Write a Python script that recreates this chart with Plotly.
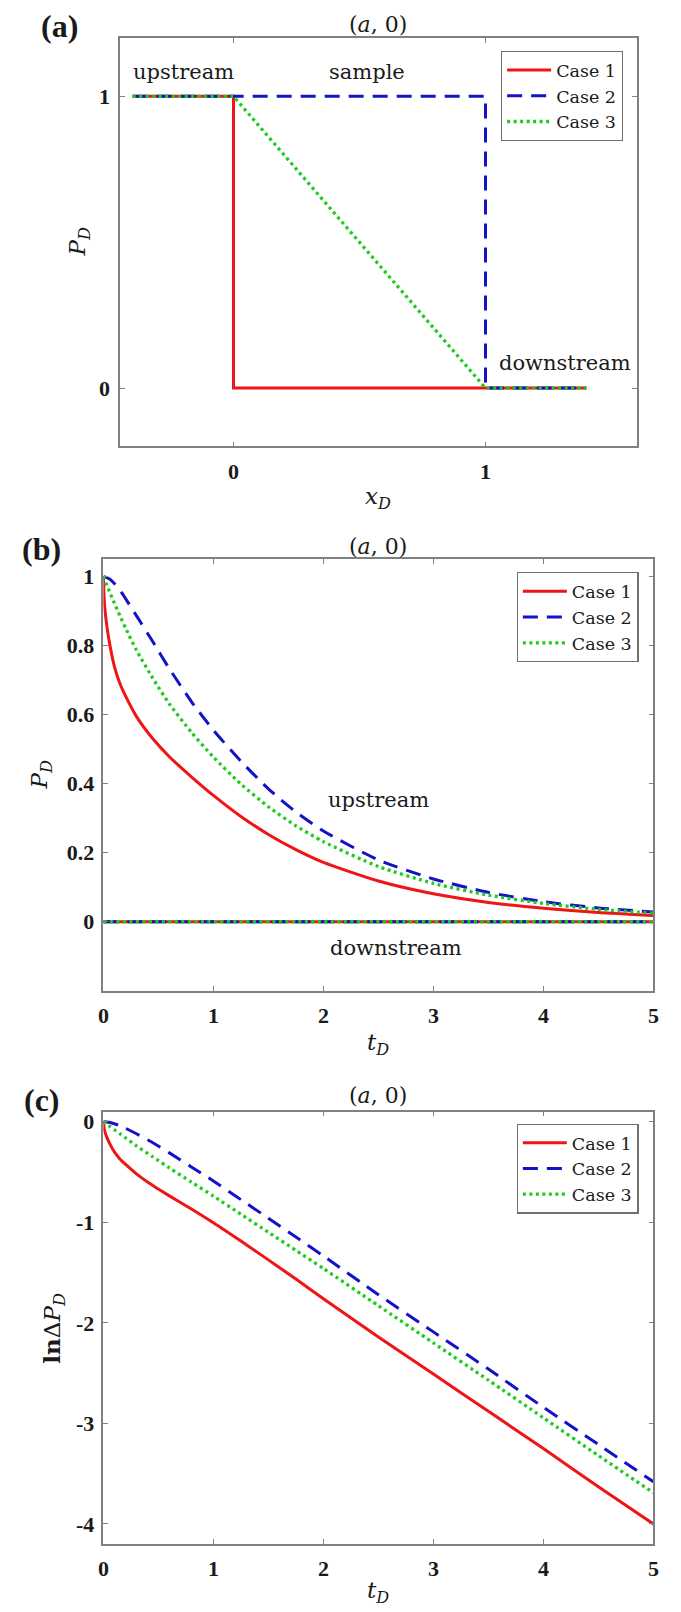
import plotly.graph_objects as go

# ---------------- data ----------------
# (a) initial pressure distribution along the sample
xa_case1 = [-0.4, 0.0, 0.0, 1.4]
pa_case1 = [1, 1, 0, 0]
xa_case2 = [-0.4, 1.0, 1.0, 1.4]
pa_case2 = [1, 1, 0, 0]
xa_case3 = [-0.4, 0.0, 1.0, 1.4]
pa_case3 = [1, 1, 0, 0]

# (b),(c) time axis
t_D = [0, 0.01, 0.03, 0.06, 0.1, 0.15, 0.2, 0.3, 0.45, 0.6, 0.8, 1.0,
       1.25, 1.5, 1.75, 2.0, 2.5, 3.0, 3.5, 4.0, 4.5, 5.0]

# (b) upstream pressure
pb_case1 = [1, 0.92, 0.86, 0.80, 0.74, 0.69, 0.655, 0.595, 0.53, 0.478,
            0.42, 0.366, 0.305, 0.253, 0.209, 0.172, 0.118, 0.081, 0.056,
            0.039, 0.0265, 0.018]
pb_case2 = [1, 0.999, 0.997, 0.992, 0.98, 0.961, 0.937, 0.887, 0.811, 0.733,
            0.638, 0.555, 0.465, 0.385, 0.318, 0.263, 0.179, 0.124, 0.085,
            0.058, 0.040, 0.028]
pb_case3 = [1, 0.992, 0.976, 0.953, 0.923, 0.887, 0.852, 0.787, 0.705, 0.631,
            0.549, 0.477, 0.399, 0.333, 0.278, 0.232, 0.160, 0.111, 0.077,
            0.053, 0.036, 0.025]
# (b) downstream pressure
t_down = [0, 5]
pb_down = [0, 0]

# (c) ln of pressure difference
lc_case1 = [0, -0.083, -0.151, -0.223, -0.301, -0.371, -0.423, -0.519, -0.635,
            -0.738, -0.868, -1.005, -1.187, -1.374, -1.565, -1.76, -2.14,
            -2.51, -2.88, -3.25, -3.63, -4.0]
lc_case2 = [0, -0.001, -0.003, -0.008, -0.02, -0.04, -0.065, -0.12, -0.21,
            -0.31, -0.45, -0.59, -0.775, -0.96, -1.147, -1.335, -1.72, -2.09,
            -2.46, -2.84, -3.21, -3.58]
lc_case3 = [0, -0.008, -0.024, -0.048, -0.08, -0.12, -0.16, -0.24, -0.35,
            -0.46, -0.6, -0.74, -0.92, -1.1, -1.28, -1.46, -1.83, -2.2, -2.57,
            -2.945, -3.32, -3.69]

case_names = ["Case 1", "Case 2", "Case 3"]

xa_ticks = [0, 1]
ya_ticks = [0, 1]
tb_ticks = [0, 1, 2, 3, 4, 5]
yb_ticks = [0, 0.2, 0.4, 0.6, 0.8, 1]
yb_ticktext = ["0", "0.2", "0.4", "0.6", "0.8", "1"]
yc_ticks = [0, -1, -2, -3, -4]
yc_ticktext = ["0", "-1", "-2", "-3", "-4"]

# ---------------- styles ----------------
PAGE_W, PAGE_H = 681, 1612
OFF = 8                      # default body margin of the html page
W, H = PAGE_W - OFF, PAGE_H - OFF
RED, BLUE, GREEN = "#f01414", "#1212c8", "#1ccc1c"
LW = 3
styles = [dict(color=RED, width=LW, dash="solid"),
          dict(color=BLUE, width=LW, dash="15px,9px"),
          dict(color=GREEN, width=3.3, dash="3px,3.5px")]
SERIF = "DejaVu Serif"
TIMES = "Liberation Serif"
TICKFONT = dict(family=TIMES, size=22, color="#1a1a1a", weight="bold")


def fx(px):
    return (px - OFF) / W


def fy(px):
    return 1 - (px - OFF) / H


fig = go.Figure()

# panel (a)
for xs, ys, name, st in zip([xa_case1, xa_case2, xa_case3],
                            [pa_case1, pa_case2, pa_case3], case_names, styles):
    fig.add_trace(go.Scatter(x=xs, y=ys, mode="lines", name=name, line=st,
                             xaxis="x", yaxis="y", legend="legend"))

# panel (b): downstream first, then upstream
for st in styles:
    fig.add_trace(go.Scatter(x=t_down, y=pb_down, mode="lines", line=st,
                             showlegend=False, xaxis="x2", yaxis="y2"))
for ys, name, st in zip([pb_case1, pb_case2, pb_case3], case_names, styles):
    fig.add_trace(go.Scatter(x=t_D, y=ys, mode="lines", name=name,
                             line=dict(st, shape="spline", smoothing=0.6),
                             xaxis="x2", yaxis="y2", legend="legend2"))

# panel (c)
for ys, name, st in zip([lc_case1, lc_case2, lc_case3], case_names, styles):
    fig.add_trace(go.Scatter(x=t_D, y=ys, mode="lines", name=name,
                             line=dict(st, shape="spline", smoothing=0.6),
                             xaxis="x3", yaxis="y3", legend="legend3"))

axis_common = dict(showline=True, linecolor="#808080", linewidth=1.5,
                   mirror="ticks", ticks="inside", ticklen=5, tickwidth=1,
                   tickcolor="#808080", showgrid=False, zeroline=False,
                   tickfont=TICKFONT)

legend_common = dict(font=dict(family=SERIF, size=17.5, color="#1a1a1a"),
                     bgcolor="white", bordercolor="#707070", borderwidth=1.2,
                     xanchor="right", yanchor="top", tracegroupgap=0,
                     itemwidth=44)

fig.update_layout(
    width=W, height=H,
    margin=dict(l=0, r=0, t=0, b=0),
    font=dict(family=SERIF, size=19, color="#1a1a1a"),
    paper_bgcolor="white", plot_bgcolor="white",
    xaxis=dict(axis_common, domain=[fx(116), fx(642)], range=[-0.45, 1.6],
               tickvals=xa_ticks, anchor="y", ticklabelstandoff=4),
    yaxis=dict(axis_common, domain=[fy(445), fy(36)], range=[-0.2, 1.2],
               tickvals=ya_ticks, anchor="x", ticklabelstandoff=4),
    xaxis2=dict(axis_common, domain=[fx(99), fx(659)], range=[0, 5],
                tickvals=tb_ticks, anchor="y2", ticklabelstandoff=4),
    yaxis2=dict(axis_common, domain=[fy(990), fy(558)], range=[-0.2, 1.05],
                tickvals=yb_ticks, ticktext=yb_ticktext, anchor="x2",
                ticklabelstandoff=3),
    xaxis3=dict(axis_common, domain=[fx(99), fx(659)], range=[0, 5],
                tickvals=tb_ticks, anchor="y3", ticklabelstandoff=4),
    yaxis3=dict(axis_common, domain=[fy(1544), fy(1111)], range=[-4.2, 0.1],
                tickvals=yc_ticks, ticktext=yc_ticktext, anchor="x3",
                ticklabelstandoff=3),
    legend=dict(legend_common, x=fx(628), y=fy(49)),
    legend2=dict(legend_common, x=fx(644), y=fy(571)),
    legend3=dict(legend_common, x=fx(644), y=fy(1123)),
    showlegend=True,
)

annots = []


def pa(text, x, y, size, family=SERIF, angle=0, weight="normal"):
    annots.append(dict(text=text, x=fx(x), y=fy(y), xref="paper", yref="paper",
                       showarrow=False, xanchor="center", yanchor="middle",
                       textangle=angle,
                       font=dict(family=family, size=size, color="#1a1a1a",
                                 weight=weight)))


# panel labels
pa("(a)", 54, 24, 32, family=TIMES, weight="bold")
pa("(b)", 36, 548, 32, family=TIMES, weight="bold")
pa("(c)", 36, 1099, 32, family=TIMES, weight="bold")
# titles
for yy in (23, 545, 1095):
    pa("(<i>a</i>, 0)", 379, yy, 22)
# axis titles
pa("<i>P</i><sub><i>D</i></sub>", 74, 240, 23, angle=-90)
pa("<i>x</i><sub><i>D</i></sub>", 379, 497, 23)
pa("<i>P</i><sub><i>D</i></sub>", 36, 774, 23, angle=-90)
pa("<i>t</i><sub><i>D</i></sub>", 379, 1043, 23)
pa("<b>ln</b>Δ<i>P</i><sub><i>D</i></sub>", 48, 1328, 23, angle=-90)
pa("<i>t</i><sub><i>D</i></sub>", 379, 1592, 23)


# in-plot labels (data coordinates)
def da(text, x, y, xr, yr):
    annots.append(dict(text=text, x=x, y=y, xref=xr, yref=yr, showarrow=False,
                       xanchor="center", yanchor="middle",
                       font=dict(family=SERIF, size=21, color="#1a1a1a")))


da("upstream", -0.2, 1.082, "x", "y")
da("sample", 0.53, 1.082, "x", "y")
da("downstream", 1.315, 0.086, "x", "y")
da("upstream", 2.5, 0.353, "x2", "y2")
da("downstream", 2.66, -0.077, "x2", "y2")

fig.update_layout(annotations=annots)

fig.write_html("out.html")
